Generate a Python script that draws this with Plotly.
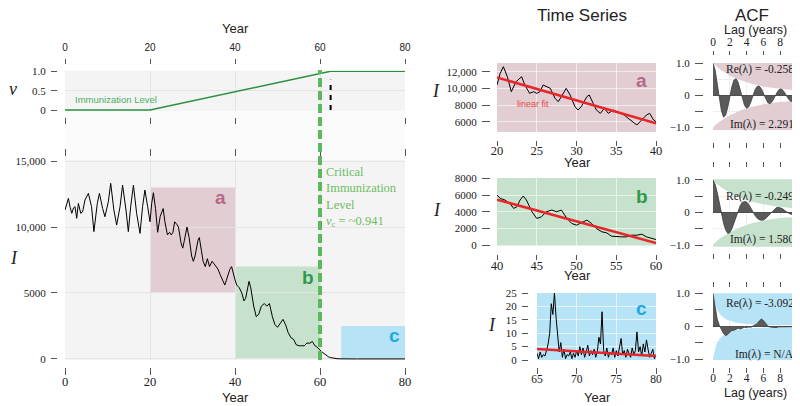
import plotly.graph_objects as go

W, H = 800, 406
# the page body adds an 8px margin around the figure; positions below are
# screen pixels and get shifted back by this much
OFF = 8
SERIF = "Liberation Serif, Times New Roman, serif"
SANS = "Liberation Sans, Arial, sans-serif"

# incidence I per year
YEARS = [
    0.0, 0.4, 0.8, 1.2, 1.6, 2.0, 2.35, 2.75, 3.15, 3.7, 4.15, 4.7, 5.5, 6.25, 6.8,
    7.6, 8.1, 8.85, 9.4, 10.2, 10.75, 11.5, 12.15, 12.95, 13.55, 14.35, 14.9, 15.45,
    16.1, 16.85, 17.65, 18.25, 18.8, 19.45, 20.0, 20.4, 20.8, 21.3, 21.8, 22.4, 23.1,
    23.5, 24.1, 24.6, 25.0, 25.4, 25.8, 26.3, 26.7, 27.3, 27.7, 28.1, 28.7, 29.2,
    29.8, 30.2, 30.6, 31.3, 31.6, 32.1, 32.5, 33.0, 33.5, 34.0, 34.6, 35.1, 35.6,
    36.0, 36.5, 37.1, 37.6, 38.2, 38.8, 39.2, 39.7, 40.0, 40.4, 41.0, 41.6, 42.1,
    42.5, 42.9, 43.3, 43.7, 44.4, 45.0, 45.6, 46.2, 46.9, 47.5, 48.1, 48.8, 49.4,
    50.0, 50.6, 51.3, 51.9, 52.5, 53.2, 53.8, 54.4, 55.1, 55.7, 56.3, 56.9, 57.6,
    58.2, 58.8, 59.2, 59.7, 60.0, 60.5, 61.0, 61.5, 62.0, 62.5, 63.0, 63.5, 64.0,
    64.5,
    65.0, 65.2, 65.4, 65.6, 65.8, 66.0, 66.2, 66.4, 66.6, 66.8, 67.0, 67.2, 67.4,
    67.6, 67.8, 68.0, 68.2, 68.4, 68.6, 68.8, 69.0, 69.2, 69.4, 69.6, 69.8, 70.0,
    70.2, 70.4, 70.6, 70.8, 71.0, 71.2, 71.4, 71.6, 71.8, 72.0, 72.2, 72.4, 72.6,
    72.8, 73.0, 73.2, 73.4, 73.6, 73.8, 74.0, 74.2, 74.4, 74.6, 74.8, 75.0, 75.2,
    75.4, 75.6, 75.8, 76.0, 76.2, 76.4, 76.6, 76.8, 77.0, 77.2, 77.4, 77.6, 77.8,
    78.0, 78.2, 78.4, 78.6, 78.8, 79.0, 79.2, 79.4, 79.6, 79.8, 80.0,
]
CASES = [
    11290, 11800, 12170, 11500, 11040, 11450, 11540, 10660, 11790, 11040, 11160,
    12050, 12550, 11540, 9650, 11790, 12550, 11410, 10780, 11920, 13310, 11290,
    10150, 11540, 13180, 11290, 9650, 11540, 13180, 11040, 9520, 11540, 12800,
    11540, 10400, 11800, 12600, 11400, 9600, 10800, 11400, 10400, 9400, 9600, 9400,
    9600, 10400, 10200, 10000, 8800, 8400, 9000, 10000, 9200, 7800, 7400, 7800,
    9000, 9200, 8200, 7400, 7000, 7600, 7000, 7400, 7200, 7000, 6800, 6400, 6000,
    5600, 6200, 6800, 7000, 6200, 6000, 5600, 5400, 5000, 4400, 4600, 5400, 5880,
    5400, 4000, 3200, 3400, 4000, 4200, 4000, 4200, 3200, 2600, 2400, 2680, 3000,
    2600, 2000, 1600, 1480, 1080, 1000, 1000, 1000, 1200, 1200, 1320, 1000, 920,
    800, 680, 520, 380, 250, 160, 100, 60, 35, 20, 10,
    2.5, 0.5, 3.0, 1.0, 2.0, 1.5, 3.5, 6.0, 10.0, 21.0, 17.0, 25.0, 16.0, 10.0,
    3.0, 6.5, 1.0, 4.0, 0.5, 2.0, 1.5, 3.0, 0.5, 2.5, 1.0, 3.5, 1.5, 5.0, 2.0, 4.5,
    1.0, 3.0, 5.5, 1.5, 3.5, 2.0, 4.0, 1.0, 3.0, 8.5, 6.0, 18.0, 3.5, 1.5, 4.5,
    1.0, 3.0, 2.0, 4.5, 1.0, 3.5, 1.5, 5.0, 8.0, 2.0, 3.5, 1.0, 4.0, 2.5, 1.0, 4.5,
    2.0, 3.5, 10.5, 3.0, 5.0, 1.5, 6.0, 3.0, 7.5, 4.0, 1.0, 2.5, 4.0, 0.5, 2.0,
]

# immunization level nu
NU_YEARS = [0, 20, 62.5, 80]
NU_LEVEL = [0, 0, 1, 1]
CRITICAL_YEAR = 60
CRITICAL_NU = "~0.941"
MARK_YEAR = 62.5
MARK_TOP = 0.78

# highlighted windows a, b, c
REGION_NAMES = ["a", "b", "c"]
REGION_START = [20, 40, 65]
REGION_END = [40, 60, 80]
REGION_LOW = [5000, 0, 0]
REGION_HIGH = [13000, 7000, 2500]
FIT_FIRST = [11300, 5450, 4.1]
FIT_LAST = [5800, 250, 1.5]

# autocorrelation functions
ACF_LAGS = [k / 4 for k in range(41)]
ACF_A = [
    1.0, 0.80, 0.37, -0.10, -0.48, -0.68, -0.62, -0.38, -0.05, 0.28, 0.48, 0.52,
    0.40, 0.17, -0.10, -0.31, -0.40, -0.36, -0.21, -0.01, 0.17, 0.28, 0.29, 0.21,
    0.06, -0.10, -0.22, -0.26, -0.21, -0.10, 0.04, 0.15, 0.20, 0.18, 0.10, -0.02,
    -0.12, -0.18, -0.19, -0.13, -0.04,
]
ACF_B = [
    1.0, 0.87, 0.62, 0.30, -0.02, -0.32, -0.53, -0.64, -0.62, -0.50, -0.32, -0.12,
    0.08, 0.22, 0.31, 0.34, 0.32, 0.25, 0.14, 0.02, -0.09, -0.17, -0.22, -0.24,
    -0.23, -0.19, -0.12, -0.05, 0.03, 0.09, 0.14, 0.16, 0.15, 0.12, 0.07, 0.02,
    -0.02, -0.05, -0.06, -0.06, -0.05,
]
ACF_C = [
    1.0, 0.55, 0.22, 0.03, -0.10, -0.22, -0.28, -0.25, -0.18, -0.13, -0.12, -0.10,
    -0.06, -0.08, -0.05, -0.03, -0.04, -0.02, -0.03, 0.0, 0.03, 0.08, 0.16, 0.22,
    0.18, 0.08, 0.02, -0.02, -0.03, -0.02, -0.04, -0.02, -0.02, -0.03, -0.02,
    -0.01, -0.02, -0.03, -0.02, -0.02, -0.01,
]
ENV_LAGS = [0, 0.5, 1, 1.5, 2, 3, 4, 5, 6, 7, 8, 9, 10]
ENV_A = [1.0, 0.88, 0.78, 0.70, 0.62, 0.50, 0.41, 0.34, 0.28, 0.24, 0.21, 0.18, 0.16]
ENV_B = [1.0, 0.87, 0.77, 0.69, 0.61, 0.48, 0.38, 0.31, 0.25, 0.21, 0.17, 0.15, 0.13]
ENV_C = [1.0, 0.50, 0.32, 0.22, 0.17, 0.10, 0.07, 0.05, 0.04, 0.035, 0.03, 0.03, 0.03]
RE_VALUES = ["-0.258", "-0.249", "-3.092"]
IM_VALUES = ["2.291", "1.580", "N/A"]

SHADE = ["#e2cdd3", "#c6e2cd", "#b6e3f5"]
LETTER = ["#b4698a", "#2f9a4c", "#22a8e0"]
GREEN = "#5cb85c"
FIT_RED = "#e8262a"


def xdom(left, right):
    return [(left - OFF) / W, (right - OFF) / W]


def ydom(top, bottom):
    return [1 - (bottom - OFF) / H, 1 - (top - OFF) / H]


def xpos(p):
    return (p - OFF) / W


def ypos(p):
    return 1 - (p - OFF) / H


def xaxis(dom, rng, pos, side, ticklen, tickvals, labels=True, family=SERIF, size=12,
          grid=False, gridcolor="#e4e4e4", overlay=None, standoff=2):
    ax = dict(
        domain=dom, range=rng, anchor="free", position=pos, side=side,
        ticks="outside", ticklen=ticklen, tickcolor="#555", tickwidth=1,
        tickvals=tickvals, showticklabels=labels, ticklabelstandoff=standoff,
        tickfont=dict(family=family, size=size, color="#222"),
        showline=False, zeroline=False, showgrid=grid, gridcolor=gridcolor,
        fixedrange=True, automargin=False,
    )
    if overlay:
        ax["overlaying"] = overlay
    return ax


def yaxis(dom, rng, pos, ticklen, tickvals, ticktext, size=11, grid=True,
          gridcolor="#e4e4e4", zeroline=False):
    return dict(
        domain=dom, range=rng, anchor="free", position=pos, side="left",
        ticks="outside", ticklen=ticklen, tickcolor="#555", tickwidth=1,
        tickvals=tickvals, ticktext=ticktext, ticklabelstandoff=3,
        tickfont=dict(family=SERIF, size=size, color="#222"),
        showline=False, showgrid=grid, gridcolor=gridcolor,
        zeroline=zeroline, zerolinecolor="#444", zerolinewidth=1.2,
        fixedrange=True, automargin=False,
    )


def window(start, end):
    pts = [(y, c) for y, c in zip(YEARS, CASES) if start <= y <= end]
    return [p[0] for p in pts], [p[1] for p in pts]


fig = go.Figure()


def line(x, y, xa, ya, color, width, **kw):
    fig.add_trace(go.Scatter(
        x=x, y=y, xaxis=xa, yaxis=ya, mode="lines",
        line=dict(color=color, width=width, **kw.pop("line", {})),
        hoverinfo="skip", showlegend=False, **kw,
    ))


# left: immunization level and incidence
line(NU_YEARS, NU_LEVEL, "x", "y", "#2a9040", 1.4)
line([], [], "x3", "y", "black", 1)
line(YEARS, CASES, "x2", "y2", "black", 1)
line([], [], "x4", "y2", "black", 1)

# middle: windows with linear fits
mid_axes = [("x5", "y5"), ("x6", "y6"), ("x7", "y7")]
for i, (xa, ya) in enumerate(mid_axes):
    wx, wy = window(REGION_START[i], REGION_END[i])
    line(wx, wy, xa, ya, "black", 1)
    line([REGION_START[i], REGION_END[i]], [FIT_FIRST[i], FIT_LAST[i]], xa, ya, FIT_RED, 2.5)

# right: ACF panels
acf_axes = [("x8", "y8", "x9"), ("x10", "y10", "x11"), ("x12", "y12", "x13")]
for (xa, ya, xo), env, acf, shade in zip(acf_axes, [ENV_A, ENV_B, ENV_C],
                                          [ACF_A, ACF_B, ACF_C], SHADE):
    line(ENV_LAGS, [1.3] * len(ENV_LAGS), xa, ya, "rgba(0,0,0,0)", 0)
    line(ENV_LAGS, env, xa, ya, "rgba(0,0,0,0)", 0, fill="tonexty", fillcolor=shade,
         line=dict(shape="spline"))
    line(ENV_LAGS, [-1.3] * len(ENV_LAGS), xa, ya, "rgba(0,0,0,0)", 0)
    line(ENV_LAGS, [-v for v in env], xa, ya, "rgba(0,0,0,0)", 0, fill="tonexty",
         fillcolor=shade, line=dict(shape="spline"))
    line(ACF_LAGS, acf, xa, ya, "#3c3c3c", 0.8, fill="tozeroy", fillcolor="#5a5a5a")
    line([], [], xo, ya, "black", 1)

shapes = []


def bg(xa, ya, color):
    shapes.append(dict(type="rect", xref=f"{xa} domain", yref=f"{ya} domain",
                       x0=0, x1=1, y0=0, y1=1, fillcolor=color, line_width=0,
                       layer="below"))


bg("x", "y", "#f4f4f4")
bg("x2", "y2", "#f4f4f4")
shapes.append(dict(type="rect", xref="paper", yref="paper", x0=xpos(65), x1=xpos(405),
                   y0=ypos(160), y1=ypos(111), fillcolor="#fbfbfb", line_width=0,
                   layer="below"))
for i in range(3):
    shapes.append(dict(type="rect", xref="x2", yref="y2", x0=REGION_START[i],
                       x1=REGION_END[i], y0=REGION_LOW[i], y1=REGION_HIGH[i],
                       fillcolor=SHADE[i], line_width=0, layer="below"))
    bg(mid_axes[i][0], mid_axes[i][1], SHADE[i])
shapes.append(dict(type="line", xref="x2", yref="paper", x0=CRITICAL_YEAR,
                   x1=CRITICAL_YEAR, y0=ypos(360), y1=ypos(70),
                   line=dict(color=GREEN, width=4, dash="9px,4px")))
shapes.append(dict(type="line", xref="x", yref="y", x0=MARK_YEAR, x1=MARK_YEAR,
                   y0=0, y1=MARK_TOP, line=dict(color="black", width=2, dash="5px,5px")))

annotations = []


def ann(text, xp, yp, size, family=SANS, color="#222", **kw):
    d = dict(text=text, x=xpos(xp), y=ypos(yp), xref="paper", yref="paper",
             showarrow=False, xanchor="center", yanchor="middle",
             font=dict(family=family, size=size, color=color))
    d.update(kw)
    annotations.append(d)


ann("Year", 235, 28, 13)
ann("Year", 235, 397, 13)
ann("Time Series", 582, 16, 17)
ann("ACF", 752, 16, 17)
ann("Lag (years)", 755, 30, 12.5)
ann("Lag (years)", 755, 393, 12.5)
ann("Year", 577, 162, 13)
ann("Year", 577, 275, 13)
ann("Year", 597, 397, 13)
ann("<i>ν</i>", 13, 89, 18, SERIF)
ann("<i>I</i>", 14, 258, 18, SERIF)
ann("<i>I</i>", 436, 91, 18, SERIF)
ann("<i>I</i>", 437, 210, 18, SERIF)
ann("<i>I</i>", 492, 325, 18, SERIF)
ann("Immunization Level", 73, 100, 9.5, SANS, "#4caf5e", xanchor="left")
ann(f"Critical<br>Immunization<br>Level<br><i>ν</i><sub>c</sub> = {CRITICAL_NU}",
    324, 163, 12.5, SERIF, "#6dbd5f", xanchor="left", yanchor="top", align="left")

letter_main = [(36.5, 12200), (57.2, 6140), (77.6, 1800)]
letter_mid = [(38.2, 11000), (58.2, 5880), (78.2, 19.4)]
for i in range(3):
    font = dict(family=SANS, size=19, color=LETTER[i], weight="bold")
    annotations.append(dict(text=REGION_NAMES[i], x=letter_main[i][0],
                            y=letter_main[i][1], xref="x2", yref="y2",
                            showarrow=False, font=font))
    annotations.append(dict(text=REGION_NAMES[i], x=letter_mid[i][0],
                            y=letter_mid[i][1], xref=mid_axes[i][0],
                            yref=mid_axes[i][1], showarrow=False, font=font))
annotations.append(dict(text="linear fit", x=24.5, y=8080, xref="x5", yref="y5",
                        showarrow=False,
                        font=dict(family=SANS, size=9, color="#e8433f")))

re_y = [0.8, 0.5, 0.7]
im_y = [-0.9, -0.82, -0.84]
for i, (xa, ya, _) in enumerate(acf_axes):
    for txt, yy in [(f"Re(λ) = {RE_VALUES[i]}", re_y[i]),
                    (f"Im(λ) = {IM_VALUES[i]}", im_y[i])]:
        annotations.append(dict(text=txt, x=9.9, y=yy, xref=xa, yref=ya,
                                xanchor="right", showarrow=False,
                                font=dict(family=SERIF, size=11.5, color="#222")))

LEFT_X = xdom(65, 405)
MID_X = xdom(497, 656)
MID_XC = xdom(537, 656)
ACF_X = xdom(713, 797)
YEAR_TICKS = [0, 20, 40, 60, 80]
LAG_TICKS = [0, 2, 4, 6, 8, 10]
ACF_TEXT = ["−1.0", "", "0", "", "1.0"]
ACF_VALS = [-1, -0.5, 0, 0.5, 1]
MID_GRID = "rgba(255,255,255,0.6)"

fig.update_layout(
    width=W, height=H, margin=dict(l=0, r=0, t=0, b=0, autoexpand=False),
    paper_bgcolor="white", plot_bgcolor="white", showlegend=False,
    shapes=shapes, annotations=annotations,
    xaxis=xaxis(LEFT_X, [0, 80], ypos(64), "top", 5, YEAR_TICKS, family=SANS,
                size=10, grid=True, standoff=4),
    xaxis3=xaxis(LEFT_X, [0, 80], ypos(117), "bottom", 6, YEAR_TICKS, labels=False,
                 overlay="x"),
    yaxis=yaxis(ydom(70.7, 111), [-0.025, 1.015], xpos(57), 6, [0, 0.5, 1],
                ["0", "0.5", "1.0"]),
    xaxis2=xaxis(LEFT_X, [0, 80], ypos(367), "bottom", 7, YEAR_TICKS, grid=True,
                 size=12.5, standoff=-4),
    xaxis4=xaxis(LEFT_X, [0, 80], ypos(156), "top", 7, YEAR_TICKS, labels=False,
                 overlay="x2"),
    yaxis2=yaxis(ydom(160, 360), [-80, 15080], xpos(57), 6, [0, 5000, 10000, 15000],
                 ["0", "5000", "10,000", "15,000"]),
    xaxis5=xaxis(MID_X, [20, 40], ypos(140), "bottom", 5, [20, 25, 30, 35, 40],
                 grid=True, gridcolor=MID_GRID, size=12.5, standoff=-6),
    yaxis5=yaxis(ydom(63, 132), [4760, 13040], xpos(490), 8, [6000, 8000, 10000, 12000],
                 ["6000", "8000", "10,000", "12,000"], gridcolor=MID_GRID),
    xaxis6=xaxis(MID_X, [40, 60], ypos(254), "bottom", 5, [40, 45, 50, 55, 60],
                 grid=True, gridcolor=MID_GRID, size=12.5, standoff=-5),
    yaxis6=yaxis(ydom(178, 245.5), [-30, 8030], xpos(490), 8, [0, 2000, 4000, 6000, 8000],
                 ["0", "2000", "4000", "6000", "8000"], gridcolor=MID_GRID),
    xaxis7=xaxis(MID_XC, [65, 80], ypos(367), "bottom", 6, [65, 70, 75, 80],
                 grid=True, gridcolor=MID_GRID, size=11.5, standoff=-5),
    yaxis7=yaxis(ydom(293, 360), [0, 25], xpos(528), 6, [0, 5, 10, 15, 20, 25],
                 ["0", "5", "10", "15", "20", "25"], gridcolor=MID_GRID),
    xaxis8=xaxis(ACF_X, [0, 10], ypos(55), "top", 4, LAG_TICKS, grid=True,
                 gridcolor="#eeeeee", size=11.5, standoff=0),
    xaxis9=xaxis(ACF_X, [0, 10], ypos(142), "bottom", 5, LAG_TICKS, labels=False,
                 overlay="x8"),
    yaxis8=yaxis(ydom(63, 130), [-1.08, 1.01], xpos(703), 8, ACF_VALS, ACF_TEXT,
                 gridcolor="#eeeeee", zeroline=True),
    xaxis10=xaxis(ACF_X, [0, 10], ypos(167), "top", 5, LAG_TICKS, labels=False,
                  grid=True, gridcolor="#eeeeee"),
    xaxis11=xaxis(ACF_X, [0, 10], ypos(253), "bottom", 5, LAG_TICKS, labels=False,
                  overlay="x10"),
    yaxis10=yaxis(ydom(179.3, 246.7), [-1.05, 1.02], xpos(703), 8, ACF_VALS, ACF_TEXT,
                  gridcolor="#eeeeee", zeroline=True),
    xaxis12=xaxis(ACF_X, [0, 10], ypos(287), "top", 5, LAG_TICKS, labels=False,
                  grid=True, gridcolor="#eeeeee"),
    xaxis13=xaxis(ACF_X, [0, 10], ypos(367), "bottom", 5, LAG_TICKS, overlay="x12",
                  size=11.5, standoff=-5),
    yaxis12=yaxis(ydom(293.3, 360), [-1.02, 1.0], xpos(703), 8, ACF_VALS, ACF_TEXT,
                  gridcolor="#eeeeee", zeroline=True),
)

fig.write_html("out.html")
